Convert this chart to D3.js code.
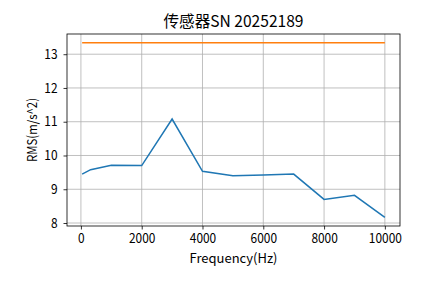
<!DOCTYPE html>
<html>
<head>
<meta charset="utf-8">
<script src="https://cdn.jsdelivr.net/npm/d3@7"></script>
<style>
  body { margin: 0; background: #fff; }
  text { font-family: "Noto Sans CJK SC", "DejaVu Sans", sans-serif; fill: #000; }
</style>
</head>
<body>
<script>
// data
var freqs = [40, 320, 1000, 2000, 3000, 4000, 5000, 6000, 7000, 8000, 9000, 10000];
var rms = [9.45, 9.58, 9.71, 9.70, 11.08, 9.53, 9.40, 9.42, 9.45, 8.70, 8.82, 8.17];
var limit = [13.34, 13.34, 13.34, 13.34, 13.34, 13.34, 13.34, 13.34, 13.34, 13.34, 13.34, 13.34];
var xTicks = [0, 2000, 4000, 6000, 8000, 10000];
var yTicks = [8, 9, 10, 11, 12, 13];
var title = '传感器SN 20252189';

var W = 444, H = 283;
var m = {left: 67, right: 44, top: 34, bottom: 57};
var charW = 6.6; // half-width latin glyphs, like SimHei

var svg = d3.select('body').append('svg')
  .attr('width', W)
  .attr('height', H);

// matplotlib-style 5% margins
function padded(ext) {
  var d = (ext[1] - ext[0]) * 0.05;
  return [ext[0] - d, ext[1] + d];
}
var yAll = rms.concat(limit);

var x = d3.scaleLinear()
  .domain(padded(d3.extent(freqs)))
  .range([m.left, W - m.right]);
var y = d3.scaleLinear()
  .domain(padded(d3.extent(yAll)))
  .range([H - m.bottom, m.top]);

// grid
svg.append('g')
  .selectAll('line')
  .data(xTicks).enter().append('line')
  .attr('x1', d => x(d)).attr('x2', d => x(d))
  .attr('y1', m.top).attr('y2', H - m.bottom)
  .style('stroke', '#b0b0b0').style('stroke-width', 0.8);
svg.append('g')
  .selectAll('line')
  .data(yTicks).enter().append('line')
  .attr('y1', d => y(d)).attr('y2', d => y(d))
  .attr('x1', m.left).attr('x2', W - m.right)
  .style('stroke', '#b0b0b0').style('stroke-width', 0.8);

var line = d3.line()
  .x((d, i) => x(freqs[i]))
  .y(d => y(d));

svg.append('path')
  .datum(rms)
  .attr('d', line)
  .style('fill', 'none')
  .style('stroke', '#1f77b4')
  .style('stroke-width', 1.5);

svg.append('path')
  .datum(limit)
  .attr('d', line)
  .style('fill', 'none')
  .style('stroke', '#ff7f0e')
  .style('stroke-width', 1.5);

// axes
var xAxis = svg.append('g')
  .attr('transform', 'translate(0,' + (H - m.bottom) + ')')
  .call(d3.axisBottom(x).tickValues(xTicks).tickSize(3.5).tickPadding(4).tickFormat(d3.format('d')));
var yAxis = svg.append('g')
  .attr('transform', 'translate(' + m.left + ',0)')
  .call(d3.axisLeft(y).tickValues(yTicks).tickSize(3.5).tickPadding(6).tickFormat(d3.format('d')));

[xAxis, yAxis].forEach(function(a) {
  a.select('.domain').remove();
  a.selectAll('line').style('stroke', '#000').style('stroke-width', 0.8);
  a.selectAll('text')
    .style('font-size', '13px')
    .style('font-family', '"Noto Sans CJK SC", sans-serif')
    .attr('textLength', function() { return this.textContent.length * charW; })
    .attr('lengthAdjust', 'spacingAndGlyphs');
});

// frame
svg.append('rect')
  .attr('x', m.left).attr('y', m.top)
  .attr('width', W - m.left - m.right)
  .attr('height', H - m.top - m.bottom)
  .style('fill', 'none')
  .style('stroke', '#000')
  .style('stroke-width', 0.8);

svg.append('text')
  .attr('x', (m.left + W - m.right) / 2)
  .attr('y', 26.5)
  .attr('text-anchor', 'middle')
  .attr('textLength', 140)
  .attr('lengthAdjust', 'spacingAndGlyphs')
  .style('font-size', '16px')
  .text(title);

svg.append('text')
  .attr('x', (m.left + W - m.right) / 2)
  .attr('y', 263)
  .attr('text-anchor', 'middle')
  .attr('textLength', 88)
  .attr('lengthAdjust', 'spacingAndGlyphs')
  .style('font-size', '13px')
  .text('Frequency(Hz)');

svg.append('text')
  .attr('transform', 'translate(37,' + ((m.top + H - m.bottom) / 2) + ') rotate(-90)')
  .attr('text-anchor', 'middle')
  .attr('textLength', 64)
  .attr('lengthAdjust', 'spacingAndGlyphs')
  .style('font-size', '13px')
  .text('RMS(m/s^2)');
</script>
</body>
</html>
